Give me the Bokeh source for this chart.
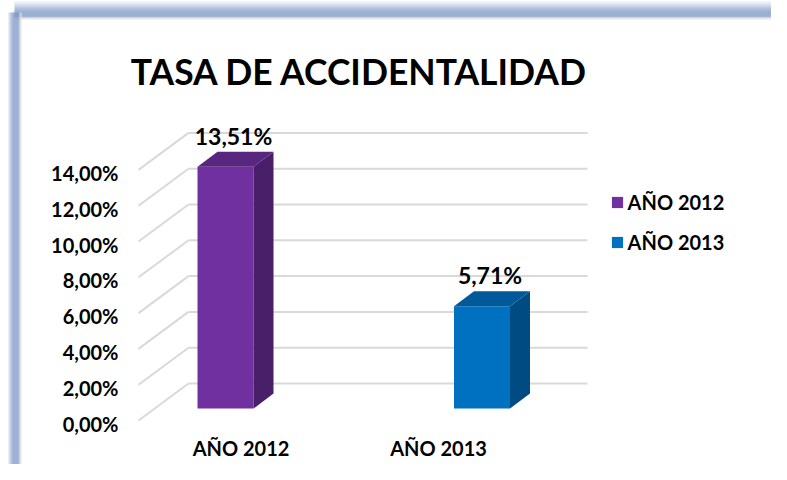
from bokeh.plotting import figure
from bokeh.models import Range1d, Legend, LegendItem
from bokeh.embed import file_html
from bokeh.resources import INLINE
from bokeh.core.properties import value

# ---------------- data ----------------
categories = ["AÑO 2012", "AÑO 2013"]
rates = [13.51, 5.71]
rate_labels = ["13,51%", "5,71%"]
y_ticks = [0, 2, 4, 6, 8, 10, 12, 14]
y_tick_labels = ["0,00%", "2,00%", "4,00%", "6,00%", "8,00%", "10,00%", "12,00%", "14,00%"]
title_text = "TASA DE ACCIDENTALIDAD"

# ---------------- styles / layout ----------------
front_colors = ["#7030A0", "#0070C0"]
side_colors = ["#4A1F6A", "#004C82"]
top_colors = ["#58267F", "#005A9A"]
grid_color = "#D9D9D9"
FONT_NAME = "Lato"
FONT = value(FONT_NAME)

W, H = 771, 464
KPP = 17.9        # pixels per percentage point
BASE = 408        # pixel row of the bars' 0 %


def Y(py):
    return (BASE - py) / KPP


def D(px):
    return px / KPP


FRONT_OFF = D(-12)   # front edge of the floor (tick label plane)
BACK_OFF = D(25)     # back wall
DIAG_X0, DIAG_X1, WALL_X1 = 138, 188, 587
BAR_X = [225, 481.5]
BAR_W = 56
DX, DY = 20, D(15)
CAT_LABEL_X = [240.5, 438]

p = figure(width=W, height=H, x_range=Range1d(0, W), y_range=Range1d(Y(H), Y(0)),
           output_backend="svg", toolbar_location=None, min_border=0,
           x_axis_location=None, y_axis_location=None, outline_line_color=None,
           background_fill_color="white", border_fill_color="white")
p.xgrid.visible = False
p.ygrid.visible = False

# ---- frame decoration (chart border) ----
top_band = ["#F4F6FA", "#EEF1F7", "#E4E9F3", "#D8E0EE", "#CAD5E8", "#BCC9E2",
            "#AEBEDC", "#A1B3D6", "#95A9D1", "#8BA1CC", "#839BC9", "#7E97C6",
            "#7B95C4", "#7B95C4", "#7B95C4", "#7B95C4", "#8AA0CB", "#D0D5DE", "#E4E4E4"]
p.quad(left=[14] * len(top_band), right=[W] * len(top_band),
       top=[Y(i) for i in range(len(top_band))],
       bottom=[Y(i + 1) for i in range(len(top_band))],
       fill_color=top_band, line_color=None)
left_band = ["#D5DEEE", "#BFCCE4", "#A8BADA", "#93A9D1", "#7E97C6", "#7E97C6",
             "#7E97C6", "#7E97C6", "#7E97C6", "#7E97C6", "#8EA3CC", "#C8CED8", "#E2E2E2"]
p.quad(left=[8 + i for i in range(len(left_band))],
       right=[9 + i for i in range(len(left_band))],
       top=[Y(12)] * len(left_band), bottom=[Y(H)] * len(left_band),
       fill_color=left_band, line_color=None)

# ---- 3D gridlines ----
p.segment(x0=[DIAG_X0] * len(y_ticks), y0=[t + FRONT_OFF for t in y_ticks],
          x1=[DIAG_X1] * len(y_ticks), y1=[t + BACK_OFF for t in y_ticks],
          line_color=grid_color, line_width=2)
p.segment(x0=[DIAG_X1] * len(y_ticks), y0=[t + BACK_OFF for t in y_ticks],
          x1=[WALL_X1] * len(y_ticks), y1=[t + BACK_OFF for t in y_ticks],
          line_color=grid_color, line_width=2)

# ---- tick labels ----
p.text(x=[118] * len(y_ticks), y=[t + FRONT_OFF - D(3) for t in y_ticks], text=y_tick_labels,
       text_align="right", text_baseline="middle", text_font=FONT,
       text_font_style="bold", text_font_size="20px", text_color="#000000")

# ---- 3D bars ----
front = p.vbar(x=BAR_X, width=BAR_W, top=rates, bottom=0,
               fill_color=front_colors, line_color=None)
side_xs = [[x + BAR_W / 2, x + BAR_W / 2 + DX, x + BAR_W / 2 + DX, x + BAR_W / 2] for x in BAR_X]
side_ys = [[0, DY, v + DY, v] for v in rates]
p.patches(xs=side_xs, ys=side_ys, fill_color=side_colors, line_color=None)
top_xs = [[x - BAR_W / 2, x - BAR_W / 2 + DX, x + BAR_W / 2 + DX, x + BAR_W / 2] for x in BAR_X]
top_ys = [[v, v + DY, v + DY, v] for v in rates]
p.patches(xs=top_xs, ys=top_ys, fill_color=top_colors, line_color=None)

# ---- value labels ----
p.text(x=[x + 8 for x in BAR_X], y=[v + DY + D(16) for v in rates], text=rate_labels,
       text_align="center", text_baseline="middle", text_font=FONT,
       text_font_style="bold", text_font_size="23px", text_color="#000000")

# ---- category labels ----
p.text(x=CAT_LABEL_X, y=[Y(447.5)] * len(categories), text=categories,
       text_align="center", text_baseline="middle", text_font=FONT,
       text_font_style="bold", text_font_size="20px", text_color="#000000")

# ---- title ----
p.text(x=[359], y=[Y(70.5)], text=[title_text], text_align="center",
       text_baseline="middle", text_font=FONT, text_font_style="bold",
       text_font_size="35.5px", text_color="#000000")

# ---- legend ----
legend = Legend(items=[LegendItem(label=c, renderers=[front], index=i)
                       for i, c in enumerate(categories)],
                location=(609.6, 210.5), orientation="vertical",
                glyph_width=14, glyph_height=14, label_standoff=4,
                label_height=20, spacing=16, padding=0, margin=0,
                label_text_font=FONT_NAME, label_text_font_style="bold",
                label_text_font_size="20px", label_text_color="#000000",
                border_line_color=None, background_fill_alpha=0)
p.add_layout(legend)

open("out.html", "w").write(file_html(p, INLINE))
